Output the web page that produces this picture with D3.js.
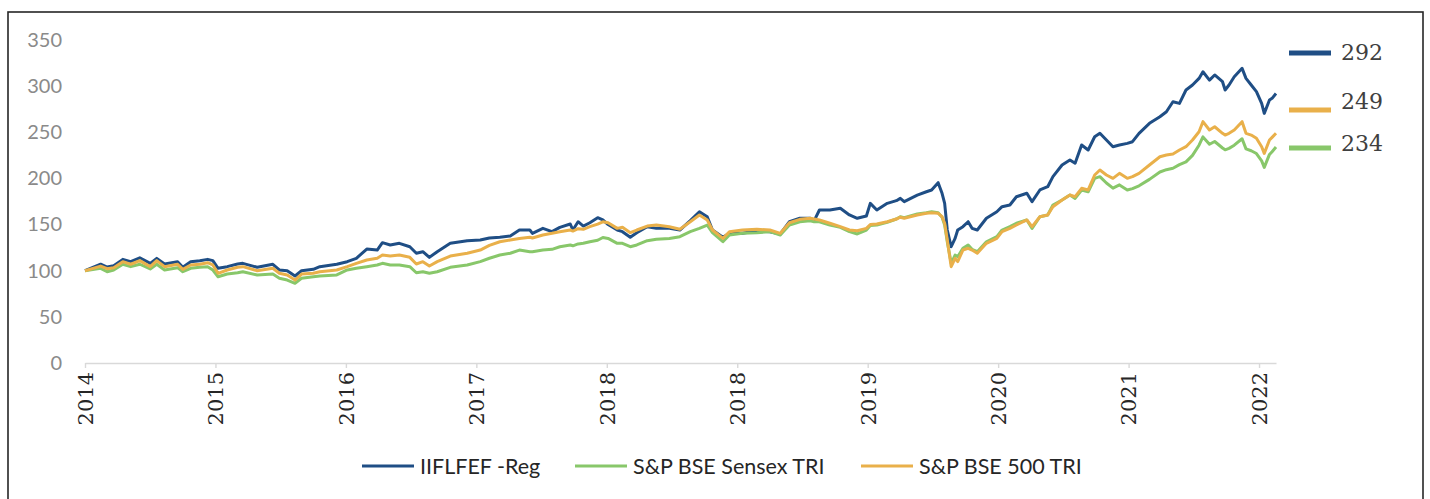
<!doctype html>
<html>
<head>
    <meta charset="UTF-8">
    <title>fund vs index</title>
    <script src="https://cdn.jsdelivr.net/npm/d3@7"></script>
    <style>
        body{ margin:0; background:#fff; }
        svg{ display:block; }
    </style>
</head>
<body>
  <svg width="1430" height="499" id="svg1"></svg>
  <script>
    // x positions: hundredths of one axis label interval (label k sits at k*100)
    var obs = [0,12,17,22,29,35,42,50,55,61,71,75,81,88,94,98,102,109,117,121,
               132,144,149,155,161,166,175,180,193,201,208,216,224,228,234,241,249,254,259,264,
               270,280,293,303,310,318,326,333,341,343,351,358,364,372,374,378,382,387,393,397,
               401,408,412,418,423,431,438,448,456,464,471,477,481,489,494,504,515,525,533,540,
               548,556,559,563,571,579,586,592,599,602,607,615,622,625,628,638,645,649,654,657,
               659,661,664,667,669,673,677,680,684,691,699,703,709,714,722,726,732,738,742,749,
               755,759,764,769,774,778,783,788,793,799,803,808,816,824,829,834,839,844,849,854,
               857,862,866,872,874,877,881,887,890,894,898,902,904,908,910,913];

    var fund = [100,107,104,105.5,112.3,109.8,114,108,113.4,107.3,109.8,103.7,109.8,110.9,112.3,110.9,102.6,104.4,107.3,108,
                103.7,106.9,100.8,100,94.3,100,101.5,104.4,107,109.8,113.4,123.5,122.4,130.4,127.9,129.7,126,118.9,120.6,114.5,
                120.6,129.7,132.5,133.3,135.5,136.2,137.6,144.1,144.1,140.5,145.9,142.3,147,150.6,144.1,153.1,148.4,152,157.4,155,
                150,144.1,142.3,136.2,141.2,147.7,145.9,145.9,144.1,154.2,163.9,158.5,144.1,136.2,140.5,140.5,143.3,142.3,139.8,153.1,
                156.8,156.8,154.2,165.8,165.8,167.6,160.4,156.8,159.3,173,165.8,173,175.9,178.4,174.8,182,185.6,187.5,195.4,183.9,
                173,144.1,126,135,144.1,147.7,153.1,145.9,144.1,156.8,163.9,169.4,171.2,180.2,183.9,174.8,187.5,191,201.9,214.5,
                220,216.4,236.2,230.8,245.2,248.9,241.6,234.4,236.2,238,239.8,248.9,259.7,266.9,272.3,283.1,281.3,295.8,301.2,308.4,
                315.6,306.6,312.1,304.8,295.8,301.2,310.2,319.3,308.4,301.2,294,281.3,270.5,285,286.8,292];

    var sensex = [100,102.6,98.9,100.8,107,104.4,107,101.9,107,100.8,103.3,98.9,102.6,103.7,104.4,100.8,93.5,96.4,97.8,98.9,
                  95.4,96.4,91.8,89.9,86.4,91.8,93.5,94.3,95.4,100.8,102.6,104.4,106.2,108,106.2,106.2,104.4,97.8,98.9,97.2,
                  98.9,103.7,106.2,109.8,113.5,117,118.9,122.4,120.6,120.5,122.4,123.2,126,127.9,127,129,129.7,131.4,133,136,
                  135,129.7,129.7,126,127.9,132.5,134,135,136.9,142.3,145.9,149.5,141.2,131.4,138.7,140.5,141.2,142.3,138.7,149.5,
                  153.1,154.2,153,153.1,149.5,147,142.3,139.8,144.1,149,149.5,152.5,156,158.5,157.5,161.4,162.9,164,162.9,157.9,
                  149.5,131.4,108,117,115.2,124.3,127.9,123.2,120.6,131.4,136.9,144.1,147.7,151.4,155,145.9,158.5,160.4,171.2,176.6,
                  182,178.4,187.5,185.6,200.1,201.9,195,189.5,193,187.5,189,192,199,207,209.5,211,215,218,225,236,
                  245,237,240,233,231,232.6,236,243,232,230,227,219,212,226,229,234];

    var bse500 = [100,105,102.2,103.3,109.8,107,110.9,104.4,110.9,104.4,107,101.5,106.2,107,108.7,106.2,97.2,100.8,103.7,104.4,
                  100,102.6,97.2,95.4,89.9,96.4,97.2,98.9,100.8,104.4,108,111.6,113.4,117,115.9,117,114.5,107.3,109.8,105.1,
                  109.8,115.9,118.9,122.4,127.5,131.4,133.3,135,136.2,135.5,138.7,140.5,142.3,144.1,143,145.5,144.9,147.7,150.5,153,
                  152,145.9,147,141.2,144.1,148.4,149.5,147.7,144.9,153.1,160.4,155,144.1,135,142.3,144.1,144.9,144.1,140.5,152,
                  155.7,156.8,156,155,151.4,147.7,144.1,143.3,145.9,150,150.6,153.1,156,158,156.8,160.4,162.2,162.9,162.2,158.5,
                  151.4,133.3,104.4,113.4,109.8,122.4,124.3,122.4,118.9,129.7,135,142.3,145.9,149.5,155,147.7,158.5,160.4,169.4,176.6,
                  182,180.2,189.3,187.5,203.7,209.1,203.7,200.1,205.5,200.1,201.9,205.5,214.5,223.5,225.4,226.5,230.8,234.4,241.6,250.6,
                  261.5,252.5,256,248.9,247,248.9,252.5,261.5,248.9,247,243.5,234.4,227.2,241.6,244.5,249];

    var seriesNames = ["IIFLFEF -Reg", "S&P BSE Sensex TRI", "S&P BSE 500 TRI"];
    var seriesColors = ["#1f4e85", "#88c76a", "#e9b04a"];
    var lastValues = [292, 249, 234];
    var lastColors = ["#1f4e85", "#e9b04a", "#88c76a"];

    var yTicks = [0,50,100,150,200,250,300,350];
    var xTickAt = [0,100,200,300,400,500,600,700,800,900];
    var xTickLabels = ["2014","2015","2016","2017","2018","2018","2019","2020","2021","2022"];

    var svg = d3.select("#svg1");

    // frame
    svg.append("rect")
       .attr("x", 8).attr("y", 12)
       .attr("width", 1415).attr("height", 520)
       .attr("fill", "none")
       .attr("stroke", "#262626")
       .attr("stroke-width", 1.6);

    var x = d3.scaleLinear().domain([0, 913]).range([85, 1276]);
    var y = d3.scaleLinear().domain([0, 350]).range([363, 40]);

    // y axis, labels only
    var gy = svg.append("g")
        .attr("transform", "translate(85,0)")
        .call(d3.axisLeft(y).tickValues(yTicks).tickSize(0).tickPadding(23));
    gy.select(".domain").remove();
    gy.selectAll("text")
      .attr("fill", "#8a8a8a")
      .style("font-family", "Lato, 'Open Sans', sans-serif")
      .style("font-size", "20px");

    // x axis
    var gx = svg.append("g")
        .attr("transform", "translate(0,363)")
        .call(d3.axisBottom(x).tickValues(xTickAt)
              .tickFormat(function(d,i){ return xTickLabels[i]; })
              .tickSize(5).tickSizeOuter(0));
    gx.select(".domain").attr("stroke", "#d9d9d9").attr("stroke-width", 1.6);
    gx.selectAll(".tick line").attr("stroke", "#d9d9d9").attr("stroke-width", 1.4);
    gx.selectAll("text")
      .attr("transform", "rotate(-90)")
      .attr("x", -9).attr("y", 0).attr("dy", "0.35em")
      .attr("text-anchor", "end")
      .attr("fill", "#262626")
      .style("font-family", "'DejaVu Serif', serif")
      .style("font-size", "21px");

    // lines: fund first, then sensex, then 500 on top
    var allSeries = [fund, sensex, bse500];
    var line = d3.line()
        .x(function(d,i){ return x(obs[i]); })
        .y(function(d){ return y(d); });

    svg.selectAll("path.series")
       .data(allSeries)
       .enter()
       .append("path")
       .attr("class", "series")
       .attr("d", function(d){ return line(d); })
       .attr("fill", "none")
       .attr("stroke", function(d,i){ return seriesColors[i]; })
       .attr("stroke-width", 3)
       .attr("stroke-linejoin", "round");

    // end-value markers on the right
    var markY = [53, 110, 148];
    var textY = [52, 101, 143];
    var ends = svg.append("g");
    ends.selectAll("line")
        .data(lastValues)
        .enter()
        .append("line")
        .attr("x1", 1289).attr("x2", 1331)
        .attr("y1", function(d,i){ return markY[i]; })
        .attr("y2", function(d,i){ return markY[i]; })
        .attr("stroke", function(d,i){ return lastColors[i]; })
        .attr("stroke-width", 5);
    ends.selectAll("text")
        .data(lastValues)
        .enter()
        .append("text")
        .attr("x", 1341)
        .attr("y", function(d,i){ return textY[i]; })
        .attr("dy", "0.35em")
        .attr("fill", "#404040")
        .style("font-family", "'DejaVu Serif', serif")
        .style("font-size", "22px")
        .text(function(d){ return d; });

    // legend
    var legendX = [362, 575, 861];
    var lg = svg.append("g");
    seriesNames.forEach(function(name, i){
        lg.append("line")
          .attr("x1", legendX[i]).attr("x2", legendX[i] + 52)
          .attr("y1", 466).attr("y2", 466)
          .attr("stroke", seriesColors[i])
          .attr("stroke-width", 3);
        lg.append("text")
          .attr("x", legendX[i] + 58)
          .attr("y", 466)
          .attr("dy", "0.35em")
          .attr("fill", "#262626")
          .style("font-family", "Lato, 'Open Sans', sans-serif")
          .style("font-size", "21.5px")
          .text(name);
    });
  </script>
</body>
</html>
